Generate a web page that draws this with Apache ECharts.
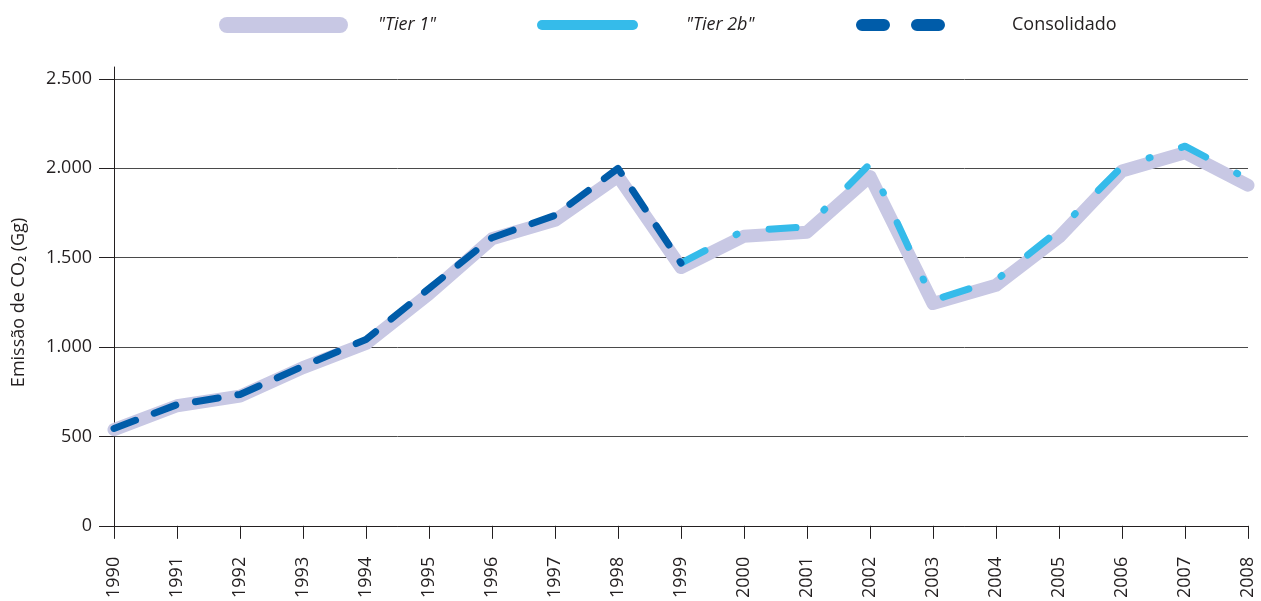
<!DOCTYPE html>
<html lang="pt">
<head>
    <meta charset="UTF-8">
    <title>Emissão de CO2</title>
    <script src="https://cdn.jsdelivr.net/npm/echarts@6.0.0/dist/echarts.min.js"></script>
    <style>
        html, body { margin: 0; padding: 0; background: #fff; }
    </style>
</head>
<body>
<div id="main" style="width: 1261px;height:601px;"></div>
<script type="text/javascript">

    var years = ['1990', '1991', '1992', '1993', '1994', '1995', '1996', '1997', '1998', '1999',
        '2000', '2001', '2002', '2003', '2004', '2005', '2006', '2007', '2008'];

    var tier1 = [538, 672, 726, 885, 1020, 1298, 1606, 1709, 1955, 1445,
        1620, 1643, 1955, 1244, 1346, 1615, 1985, 2087, 1906];

    var tier2b = [null, null, null, null, null, null, null, null, null, 1470,
        1652, 1672, 2025, 1262, 1374, 1655, 2010, 2124, 1940];

    var consolidado = [545, 678, 735, 893, 1043, 1328, 1612, 1737, 2000, 1470,
        null, null, null, null, null, null, null, null, null];

    var yTicks = [0, 500, 1000, 1500, 2000, 2500];

    var font = '"Open Sans", sans-serif';
    var textColor = '#231f20';
    var axisColor = '#231f20';

    var chartDom = document.getElementById('main');
    var myChart = echarts.init(chartDom);
    var option;

    // legenda: uma por série, para poder dar tamanhos diferentes aos ícones
    function legendBox(name, left, w, h, icon, pad, italic) {
        return {
            data: [{name: name, icon: icon}],
            left: left,
            top: 14,
            padding: 0,
            itemWidth: w,
            itemHeight: h,
            selectedMode: false,
            textStyle: {
                fontFamily: font,
                fontSize: 18,
                fontStyle: italic ? 'italic' : 'normal',
                color: textColor,
                padding: [0, 0, 0, pad],
                lineHeight: 22
            }
        };
    }

    option = {
        animation: false,
        textStyle: {fontFamily: font},
        legend: [
            legendBox('"Tier 1"', 219, 129, 16,
                'path://M8,0H121A8,8,0,0,1,121,16H8A8,8,0,0,1,8,0Z', 25, true),
            legendBox('"Tier 2b"', 537, 101, 10,
                'path://M5,0H96A5,5,0,0,1,96,10H5A5,5,0,0,1,5,0Z', 43, true),
            legendBox('Consolidado', 856, 89, 12,
                'path://M6,0H28A6,6,0,0,1,28,12H6A6,6,0,0,1,6,0Z M61,0H83A6,6,0,0,1,83,12H61A6,6,0,0,1,61,0Z', 62, false)
        ],
        grid: [
            {left: 114, right: 13, top: 79, bottom: 72},
            // só para prolongar a linha do eixo y acima de 2.500
            {left: 114, right: 13, top: 67, bottom: 72}
        ],
        xAxis: [
            {
                type: 'category',
                data: years,
                boundaryGap: false,
                axisLine: {lineStyle: {color: axisColor, width: 1}},
                axisTick: {show: true, alignWithLabel: true, length: 13, lineStyle: {color: axisColor}},
                axisLabel: {
                    rotate: 90,
                    margin: 31,
                    fontSize: 18,
                    fontFamily: font,
                    color: textColor
                },
                splitLine: {show: false}
            },
            {gridIndex: 1, type: 'category', data: years, show: false}
        ],
        yAxis: [
            {
                type: 'value',
                min: yTicks[0],
                max: yTicks[yTicks.length - 1],
                interval: 500,
                name: 'Emissão de CO₂ (Gg)',
                nameLocation: 'middle',
                nameRotate: 90,
                nameGap: 86,
                nameTextStyle: {fontSize: 18, fontFamily: font, color: textColor},
                axisLine: {show: true, lineStyle: {color: axisColor, width: 1}},
                axisTick: {show: true, length: 15, lineStyle: {color: axisColor}},
                axisLabel: {
                    margin: 22,
                    fontSize: 18,
                    fontFamily: font,
                    color: textColor,
                    formatter: function (v) {
                        return String(v).replace(/\B(?=(\d{3})+(?!\d))/g, '.');
                    }
                },
                splitLine: {show: true, lineStyle: {color: '#4a4a4a', width: 1}}
            },
            {
                gridIndex: 1,
                type: 'value',
                min: 0,
                max: 1,
                axisLine: {show: true, lineStyle: {color: axisColor, width: 1}},
                axisTick: {show: false},
                axisLabel: {show: false},
                splitLine: {show: false}
            }
        ],
        series: [
            {
                name: '"Tier 1"',
                type: 'line',
                data: tier1,
                color: '#c8c8e4',
                showSymbol: false,
                lineStyle: {width: 13, color: '#c8c8e4', cap: 'round', join: 'round'},
                z: 2
            },
            {
                name: '"Tier 2b"',
                type: 'line',
                data: tier2b,
                color: '#35bbea',
                showSymbol: false,
                lineStyle: {width: 7, color: '#35bbea', type: [27, 35, 1, 33], cap: 'round', join: 'round'},
                z: 3
            },
            {
                name: 'Consolidado',
                type: 'line',
                data: consolidado,
                color: '#005ca9',
                showSymbol: false,
                lineStyle: {width: 7, color: '#005ca9', type: [23, 20], cap: 'round', join: 'round'},
                z: 4
            }
        ]
    };

    option && myChart.setOption(option);
</script>
</body>
</html>
